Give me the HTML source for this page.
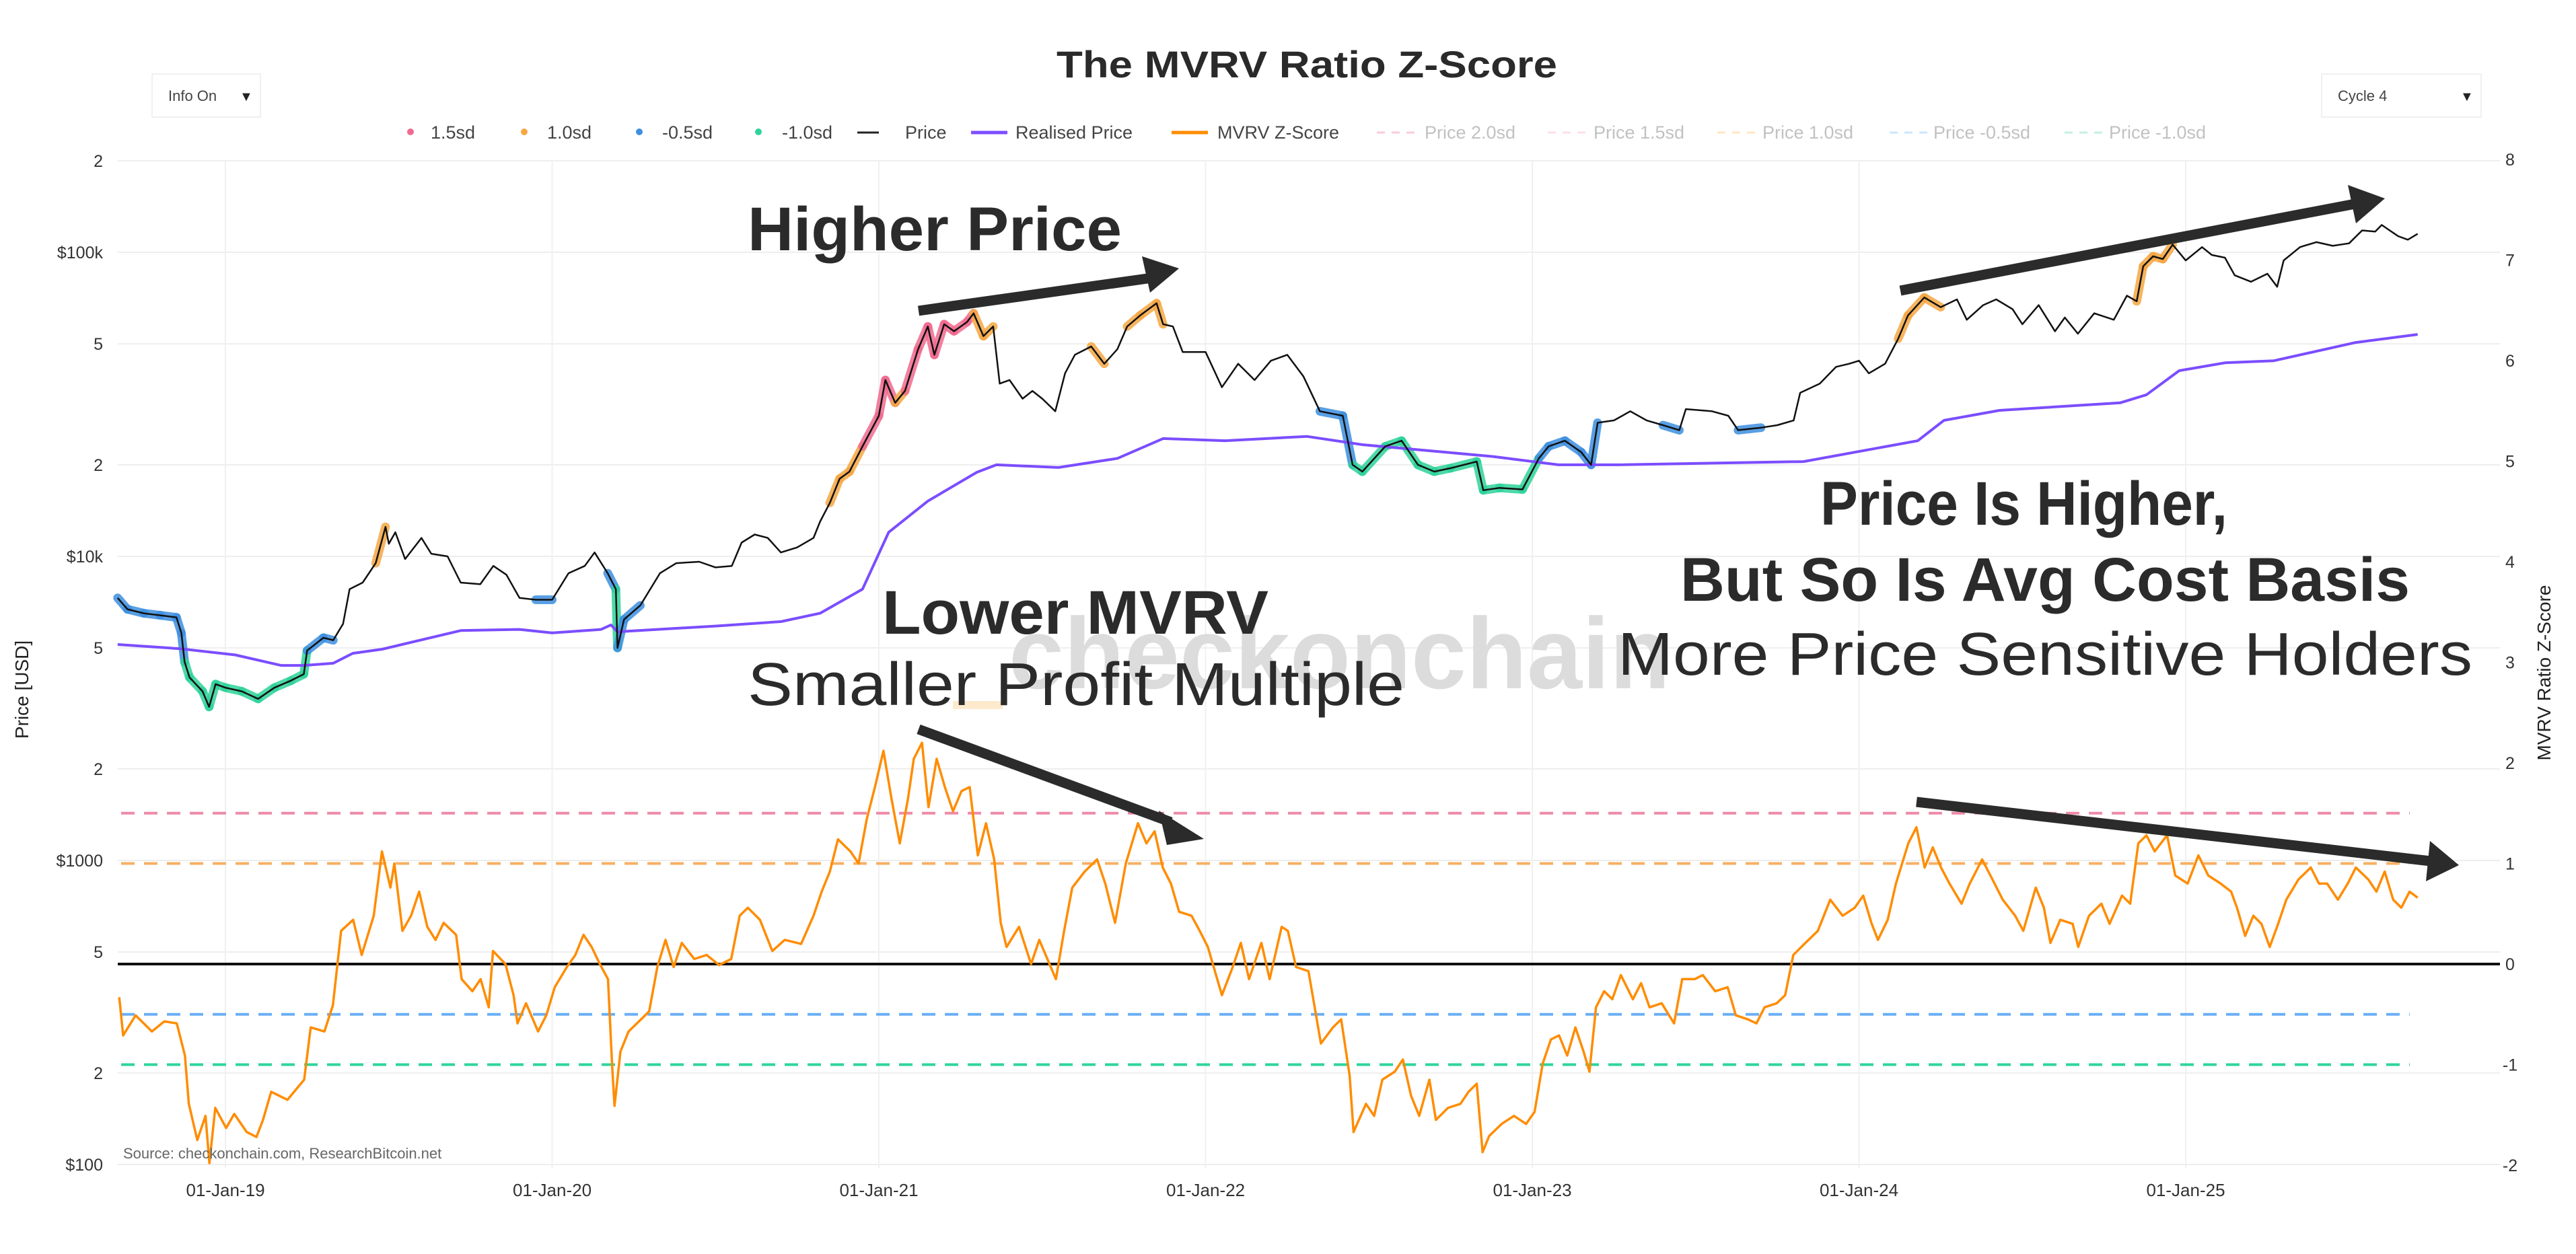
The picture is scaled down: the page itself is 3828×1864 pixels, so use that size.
<!DOCTYPE html>
<html><head><meta charset="utf-8"><title>The MVRV Ratio Z-Score</title>
<style>
html,body{margin:0;padding:0;background:#fff;}
svg{display:block;font-family:"Liberation Sans",sans-serif;}
</style></head>
<body>
<svg id="chart" xmlns="http://www.w3.org/2000/svg" width="3828" height="1864" viewBox="0 0 3828 1864">
<rect x="0" y="0" width="3828" height="1864" fill="#fff"/>
<g id="grid"></g>
<text x="1499" y="1023" font-size="150" font-weight="bold" fill="#dcdcdc" textLength="983" lengthAdjust="spacingAndGlyphs">checkonchain</text>
<rect x="1416" y="1042" width="74" height="12" fill="#fde9cc"/>
<g id="refs"></g>
<g id="series"></g>
<g id="axes"></g>

<text x="1942" y="115" font-size="56" font-weight="bold" fill="#2a2a2a" text-anchor="middle" textLength="744" lengthAdjust="spacingAndGlyphs">The MVRV Ratio Z-Score</text>

<g>
<rect x="226" y="110" width="161" height="64" fill="#fff" stroke="#f0f0f0" stroke-width="2"/>
<text x="250" y="150" font-size="22" fill="#444">Info On</text>
<text x="356" y="150" font-size="20" fill="#222">▼</text>
</g>
<g>
<rect x="3450" y="110" width="237" height="64" fill="#fff" stroke="#f0f0f0" stroke-width="2"/>
<text x="3474" y="150" font-size="22" fill="#444">Cycle 4</text>
<text x="3656" y="150" font-size="20" fill="#222">▼</text>
</g>

<g id="legend" font-size="27">
<g><circle cx="610" cy="196" r="5" fill="#f06a8f"/><text x="640" y="206" fill="#444">1.5sd</text></g>
<g><circle cx="779" cy="196" r="5" fill="#f5a742"/><text x="813" y="206" fill="#444">1.0sd</text></g>
<g><circle cx="950" cy="196" r="5" fill="#3d8fe0"/><text x="984" y="206" fill="#444">-0.5sd</text></g>
<g><circle cx="1127" cy="196" r="5" fill="#2ed39a"/><text x="1162" y="206" fill="#444">-1.0sd</text></g>
<g><line x1="1274" y1="197" x2="1306" y2="197" stroke="#222" stroke-width="3"/><text x="1345" y="206" fill="#444">Price</text></g>
<g><line x1="1443" y1="197" x2="1497" y2="197" stroke="#7b4dff" stroke-width="5"/><text x="1509" y="206" fill="#444">Realised Price</text></g>
<g><line x1="1741" y1="197" x2="1795" y2="197" stroke="#ff8c00" stroke-width="5"/><text x="1809" y="206" fill="#444">MVRV Z-Score</text></g>
<g opacity="0.45"><line x1="2046" y1="197" x2="2104" y2="197" stroke="#f48fb1" stroke-width="3" stroke-dasharray="12 10"/><text x="2117" y="206" fill="#777">Price 2.0sd</text></g>
<g opacity="0.45"><line x1="2300" y1="197" x2="2358" y2="197" stroke="#f8bbd0" stroke-width="3" stroke-dasharray="12 10"/><text x="2368" y="206" fill="#777">Price 1.5sd</text></g>
<g opacity="0.45"><line x1="2552" y1="197" x2="2610" y2="197" stroke="#ffcc80" stroke-width="3" stroke-dasharray="12 10"/><text x="2619" y="206" fill="#777">Price 1.0sd</text></g>
<g opacity="0.45"><line x1="2808" y1="197" x2="2866" y2="197" stroke="#90caf9" stroke-width="3" stroke-dasharray="12 10"/><text x="2873" y="206" fill="#777">Price -0.5sd</text></g>
<g opacity="0.45"><line x1="3068" y1="197" x2="3126" y2="197" stroke="#80e0c0" stroke-width="3" stroke-dasharray="12 10"/><text x="3134" y="206" fill="#777">Price -1.0sd</text></g>
</g>

<g fill="#2b2b2b">
<text x="1111" y="372" font-size="92" font-weight="bold" textLength="556" lengthAdjust="spacingAndGlyphs">Higher Price</text>
<text x="1311" y="942" font-size="92" font-weight="bold" textLength="574" lengthAdjust="spacingAndGlyphs">Lower MVRV</text>
<text x="1111" y="1048" font-size="90" textLength="976" lengthAdjust="spacingAndGlyphs">Smaller Profit Multiple</text>
<text x="2705" y="780" font-size="92" font-weight="bold" textLength="605" lengthAdjust="spacingAndGlyphs">Price Is Higher,</text>
<text x="2497" y="893" font-size="92" font-weight="bold" textLength="1084" lengthAdjust="spacingAndGlyphs">But So Is Avg Cost Basis</text>
<text x="2404" y="1003" font-size="90" textLength="1270" lengthAdjust="spacingAndGlyphs">More Price Sensitive Holders</text>
</g>

<g stroke="#2b2b2b" fill="#2b2b2b">
<g><line x1="1365" y1="462" x2="1712" y2="413" stroke-width="15"/><polygon points="1697,381 1752,399 1709,435" stroke="none"/></g>
<g><line x1="1365" y1="1084" x2="1740" y2="1222" stroke-width="15"/><polygon points="1722,1205 1789,1247 1734,1256" stroke="none"/></g>
<g><line x1="2824" y1="432" x2="3505" y2="302" stroke-width="15"/><polygon points="3489,275 3544,295 3501,332" stroke="none"/></g>
<g><line x1="2848" y1="1192" x2="3612" y2="1280" stroke-width="15"/><polygon points="3611,1250 3654,1286 3605,1310" stroke="none"/></g>
</g>

<text x="183" y="1722" font-size="22" fill="#666">Source: checkonchain.com, ResearchBitcoin.net</text>
<text transform="translate(42,1025) rotate(-90)" font-size="28" fill="#222" text-anchor="middle">Price [USD]</text>
<text transform="translate(3790,1000) rotate(-90)" font-size="28" fill="#222" text-anchor="middle">MVRV Ratio Z-Score</text>
</svg>
<script>
// ---------- data ----------
const priceDates = [2018.67,2018.70,2018.75,2018.80,2018.85,2018.865,2018.875,2018.89,2018.93,2018.95,2018.97,2019.0,2019.05,2019.1,2019.15,2019.2,2019.24,2019.25,2019.3,2019.33,2019.36,2019.38,2019.42,2019.46,2019.49,2019.5,2019.52,2019.55,2019.6,2019.63,2019.68,2019.72,2019.78,2019.82,2019.86,2019.9,2019.95,2020.0,2020.05,2020.1,2020.13,2020.17,2020.195,2020.2,2020.22,2020.27,2020.33,2020.38,2020.45,2020.5,2020.55,2020.58,2020.62,2020.66,2020.7,2020.75,2020.8,2020.82,2020.85,2020.88,2020.91,2020.95,2021.0,2021.02,2021.05,2021.08,2021.12,2021.15,2021.17,2021.2,2021.23,2021.27,2021.29,2021.32,2021.35,2021.37,2021.4,2021.44,2021.47,2021.5,2021.54,2021.57,2021.6,2021.65,2021.69,2021.73,2021.76,2021.8,2021.85,2021.87,2021.9,2021.93,2022.0,2022.05,2022.1,2022.15,2022.2,2022.25,2022.3,2022.35,2022.42,2022.45,2022.48,2022.55,2022.6,2022.65,2022.7,2022.75,2022.83,2022.85,2022.9,2022.97,2023.02,2023.05,2023.1,2023.15,2023.18,2023.2,2023.25,2023.3,2023.35,2023.4,2023.45,2023.47,2023.55,2023.6,2023.63,2023.7,2023.75,2023.8,2023.82,2023.88,2023.93,2023.97,2024.0,2024.03,2024.08,2024.12,2024.15,2024.2,2024.25,2024.3,2024.33,2024.38,2024.42,2024.47,2024.5,2024.55,2024.6,2024.63,2024.67,2024.72,2024.78,2024.82,2024.85,2024.87,2024.9,2024.93,2024.96,2025.0,2025.05,2025.08,2025.12,2025.15,2025.2,2025.25,2025.28,2025.3,2025.35,2025.4,2025.45,2025.5,2025.54,2025.58,2025.6,2025.65,2025.68,2025.71];
const priceValues = [7300,6700,6500,6400,6300,5600,4500,4000,3600,3200,3800,3700,3600,3400,3700,3900,4100,4900,5400,5300,6000,7800,8200,9500,12500,11000,12000,9800,11500,10200,10000,8200,8100,9300,8700,7300,7200,7200,8800,9300,10300,8800,7800,5000,6200,6900,8800,9500,9600,9200,9300,11100,11800,11500,10300,10700,11500,13000,15000,18000,19000,23000,29000,38000,32000,35000,48000,57000,46000,58000,55000,59000,63000,53000,57000,37000,38000,33000,35000,33000,30000,40000,46000,49000,43000,48000,57000,62000,68000,58000,57000,47000,47000,36000,43000,38000,44000,46000,39000,30000,29000,20000,19000,23000,24000,20000,19000,19500,20500,16500,16800,16600,21000,23000,24000,22000,20000,27500,28000,30000,28000,27000,26000,30500,30000,29000,26000,26500,27000,28000,34500,37000,42000,43000,44000,40000,43000,52000,62000,71000,66000,70000,60000,67000,70000,65000,58000,67000,55000,61000,54000,63000,60000,72000,69000,90000,97000,95000,106000,94000,104000,98000,96000,84000,80000,85000,77000,94000,104000,108000,105000,107000,118000,117000,123000,113000,110000,115000];

const realDates = [2018.67,2018.86,2019.03,2019.17,2019.24,2019.33,2019.39,2019.48,2019.72,2019.9,2020.0,2020.15,2020.18,2020.2,2020.5,2020.7,2020.82,2020.95,2021.03,2021.15,2021.3,2021.36,2021.55,2021.73,2021.87,2022.06,2022.31,2022.48,2022.88,2023.08,2023.26,2023.83,2024.18,2024.26,2024.43,2024.8,2024.88,2024.98,2025.12,2025.27,2025.52,2025.71];
const realValues = [5130,4970,4740,4380,4380,4450,4800,4950,5700,5750,5600,5750,5950,5650,5900,6100,6500,7800,12000,15200,18900,20000,19600,21000,24400,24000,24800,23300,21300,20000,20000,20500,24000,28000,30200,32000,34000,40800,43300,44000,50500,53700];

const zDates = [2018.675,2018.687,2018.725,2018.775,2018.813,2018.851,2018.876,2018.888,2018.914,2018.939,2018.951,2018.969,2019.002,2019.027,2019.065,2019.095,2019.115,2019.140,2019.190,2019.241,2019.261,2019.303,2019.329,2019.354,2019.391,2019.417,2019.454,2019.479,2019.505,2019.517,2019.542,2019.568,2019.593,2019.618,2019.643,2019.668,2019.706,2019.723,2019.756,2019.781,2019.806,2019.819,2019.857,2019.882,2019.894,2019.920,2019.957,2019.982,2020.008,2020.045,2020.071,2020.096,2020.121,2020.146,2020.171,2020.184,2020.191,2020.209,2020.234,2020.272,2020.297,2020.322,2020.347,2020.372,2020.397,2020.435,2020.473,2020.511,2020.548,2020.574,2020.599,2020.636,2020.674,2020.712,2020.762,2020.800,2020.825,2020.850,2020.875,2020.913,2020.938,2020.963,2020.988,2021.014,2021.039,2021.064,2021.089,2021.107,2021.132,2021.152,2021.177,2021.202,2021.227,2021.253,2021.278,2021.303,2021.328,2021.353,2021.373,2021.391,2021.429,2021.466,2021.491,2021.542,2021.567,2021.592,2021.630,2021.668,2021.693,2021.723,2021.756,2021.793,2021.819,2021.844,2021.869,2021.894,2021.919,2021.957,2021.982,2022.007,2022.050,2022.083,2022.108,2022.133,2022.171,2022.196,2022.233,2022.252,2022.277,2022.315,2022.353,2022.390,2022.415,2022.441,2022.453,2022.491,2022.516,2022.541,2022.579,2022.604,2022.629,2022.654,2022.685,2022.705,2022.742,2022.780,2022.805,2022.830,2022.848,2022.868,2022.906,2022.944,2022.981,2023.007,2023.032,2023.057,2023.082,2023.107,2023.132,2023.157,2023.175,2023.195,2023.220,2023.245,2023.271,2023.308,2023.333,2023.359,2023.396,2023.434,2023.459,2023.497,2023.522,2023.560,2023.598,2023.623,2023.660,2023.686,2023.711,2023.748,2023.774,2023.799,2023.836,2023.874,2023.912,2023.950,2023.987,2024.013,2024.038,2024.058,2024.088,2024.113,2024.151,2024.176,2024.201,2024.226,2024.251,2024.277,2024.314,2024.339,2024.377,2024.415,2024.440,2024.478,2024.503,2024.541,2024.566,2024.586,2024.616,2024.654,2024.671,2024.704,2024.742,2024.767,2024.805,2024.830,2024.855,2024.880,2024.905,2024.943,2024.968,2025.006,2025.039,2025.069,2025.107,2025.139,2025.157,2025.182,2025.207,2025.232,2025.257,2025.283,2025.308,2025.345,2025.383,2025.408,2025.433,2025.466,2025.496,2025.521,2025.559,2025.584,2025.609,2025.635,2025.660,2025.685,2025.710];
const zValues = [-0.33,-0.71,-0.51,-0.67,-0.57,-0.59,-0.91,-1.39,-1.75,-1.51,-1.98,-1.43,-1.63,-1.49,-1.67,-1.72,-1.55,-1.27,-1.35,-1.15,-0.63,-0.67,-0.41,0.33,0.44,0.09,0.48,1.12,0.76,1.0,0.33,0.48,0.72,0.37,0.24,0.41,0.29,-0.15,-0.27,-0.15,-0.43,0.13,0.0,-0.31,-0.59,-0.39,-0.67,-0.51,-0.23,-0.03,0.09,0.29,0.17,0.0,-0.15,-1.03,-1.41,-0.87,-0.67,-0.55,-0.47,-0.03,0.24,-0.03,0.21,0.05,0.09,-0.01,0.05,0.48,0.56,0.44,0.13,0.24,0.2,0.48,0.72,0.92,1.24,1.12,1.0,1.44,1.76,2.12,1.64,1.2,1.64,2.04,2.2,1.56,2.04,1.76,1.52,1.72,1.76,1.08,1.4,1.04,0.41,0.17,0.37,0.0,0.24,-0.15,0.33,0.76,0.92,1.04,0.8,0.41,1.0,1.4,1.2,1.32,0.96,0.8,0.52,0.48,0.33,0.17,-0.31,-0.03,0.21,-0.15,0.21,-0.15,0.37,0.33,-0.03,-0.07,-0.79,-0.63,-0.55,-1.11,-1.67,-1.39,-1.51,-1.15,-1.07,-0.95,-1.31,-1.51,-1.15,-1.55,-1.43,-1.39,-1.27,-1.19,-1.87,-1.71,-1.59,-1.51,-1.59,-1.47,-0.99,-0.75,-0.71,-0.91,-0.63,-0.87,-1.07,-0.43,-0.27,-0.35,-0.11,-0.35,-0.19,-0.43,-0.39,-0.59,-0.15,-0.15,-0.11,-0.27,-0.23,-0.51,-0.55,-0.59,-0.43,-0.39,-0.31,0.09,0.21,0.33,0.64,0.48,0.56,0.68,0.41,0.24,0.44,0.8,1.2,1.36,0.96,1.16,0.96,0.8,0.6,0.8,1.04,0.8,0.64,0.48,0.33,0.76,0.56,0.21,0.44,0.4,0.17,0.48,0.6,0.4,0.68,0.6,1.2,1.28,1.12,1.28,0.88,0.8,1.08,0.88,0.8,0.72,0.56,0.28,0.48,0.4,0.17,0.4,0.64,0.84,0.96,0.8,0.8,0.64,0.8,0.96,0.84,0.72,0.92,0.64,0.56,0.72,0.66];

const leftTickValues = [200000,100000,50000,20000,10000,5000,2000,1000,500,200,100];
const leftTickLabels = ["2","$100k","5","2","$10k","5","2","$1000","5","2","$100"];
const rightTickValues = [8,7,6,5,4,3,2,1,0,-1,-2];
const xTickYears = [2019,2020,2021,2022,2023,2024,2025];
const xTickLabels = ["01-Jan-19","01-Jan-20","01-Jan-21","01-Jan-22","01-Jan-23","01-Jan-24","01-Jan-25"];
const bandLevels = [1.5,1.0,-0.5,-1.0];
const bandColors = ["#ee8aa8","#f6b064","#6aaef5","#2fd49c"];

// ---------- scales ----------
const NS = "http://www.w3.org/2000/svg";
const PL = 175, PR = 3715;
function xS(yr){ return 335 + (yr - 2019) * 485.5; }
function yP(p){ return 375 + (5 - Math.log10(p)) * 452; }
function yZ(z){ return 1433 - z * 149.5; }
function mk(tag, attrs, parent){ const e = document.createElementNS(NS, tag); for (const k in attrs) e.setAttribute(k, attrs[k]); parent.appendChild(e); return e; }
function zAt(d){
  if (d <= zDates[0]) return zValues[0];
  for (let i = 1; i < zDates.length; i++) if (zDates[i] >= d) { const t = (d - zDates[i-1]) / (zDates[i] - zDates[i-1]); return zValues[i-1] + t * (zValues[i] - zValues[i-1]); }
  return zValues[zValues.length-1];
}
function cat(z){ if (z >= 1.5) return "#f06a8f"; if (z >= 1.0) return "#f5a742"; if (z <= -1.0) return "#2ed39a"; if (z <= -0.5) return "#3d8fe0"; return null; }

const grid = document.getElementById('grid');
const axes = document.getElementById('axes');
const refs = document.getElementById('refs');
const series = document.getElementById('series');

// grid
leftTickValues.forEach((v, i) => {
  const y = yP(v);
  const gl = mk('line', {x1: PL, x2: PR, y1: y, y2: y, stroke: '#eeeeee', 'stroke-width': 2}, grid);
  
  
  const t = mk('text', {x: 153, y: y + 9, 'font-size': 25, fill: '#333', 'text-anchor': 'end'}, axes);
  t.textContent = leftTickLabels[i];
  
  
});
rightTickValues.forEach(v => {
  const t = mk('text', {x: 3730, y: yZ(v) + 9, 'font-size': 25, fill: '#333', 'text-anchor': 'middle'}, axes);
  t.textContent = String(v);
  
  
});
xTickYears.forEach((yr, i) => {
  const x = xS(yr);
  const gl = mk('line', {x1: x, x2: x, y1: 240, y2: 1736, stroke: '#f0f0f0', 'stroke-width': 2}, grid);
  
  
  const t = mk('text', {x: x, y: 1778, 'font-size': 26, fill: '#333', 'text-anchor': 'middle'}, axes);
  t.textContent = xTickLabels[i];
  
  
});

// band reference lines
bandLevels.forEach((lv, i) => {
  const l = mk('line', {x1: 180, x2: 3581, y1: yZ(lv), y2: yZ(lv), stroke: bandColors[i], 'stroke-width': 4, 'stroke-dasharray': '20 14'}, refs);
  
  
});
const zl = mk('line', {x1: PL, x2: PR, y1: yZ(0), y2: yZ(0), stroke: '#111', 'stroke-width': 4}, refs);



// price highlight segments
for (let i = 0; i < priceDates.length - 1; i++) {
  const c = cat(zAt((priceDates[i] + priceDates[i+1]) / 2));
  if (!c) continue;
  const s = mk('line', {x1: xS(priceDates[i]), y1: yP(priceValues[i]), x2: xS(priceDates[i+1]), y2: yP(priceValues[i+1]), stroke: c, 'stroke-width': 13, 'stroke-linecap': 'round', opacity: 0.85}, series);
  
  
}
function poly(dates, vals, yf, color, w, name){
  const pts = dates.map((d, i) => xS(d).toFixed(1) + ',' + yf(vals[i]).toFixed(1)).join(' ');
  const p = mk('polyline', {points: pts, fill: 'none', stroke: color, 'stroke-width': w, 'stroke-linejoin': 'round'}, series);
  
  
}
poly(realDates, realValues, yP, '#7b4dff', 4, 'realised-price-line');
poly(priceDates, priceValues, yP, '#111', 2.5, 'price-line');
poly(zDates, zValues, yZ, '#ff8c00', 3.5, 'mvrv-z-score-line');
</script>
</body></html>
